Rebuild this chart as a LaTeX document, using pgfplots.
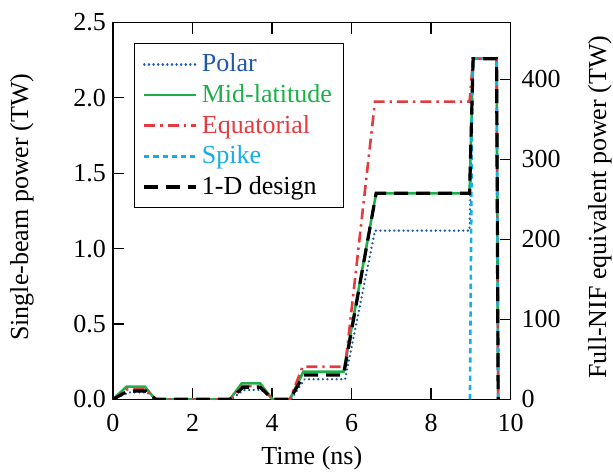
\documentclass[border=0pt]{standalone}
\usepackage{fontspec}
\setmainfont{Liberation Serif}
\usepackage{pgfplots}
\pgfplotsset{compat=1.18}
\definecolor{cpolar}{HTML}{1F5AA8}
\definecolor{cmid}{HTML}{1DB04A}
\definecolor{ceq}{HTML}{E53A40}
\definecolor{cspike}{HTML}{14AEE8}
\newcommand{\fs}{\fontsize{13}{15}\selectfont}
\begin{document}
\begin{tikzpicture}
\begin{axis}[
  scale only axis, width=198.75pt, height=188.4pt,
  xmin=0, xmax=10, ymin=0, ymax=2.5,
  xtick={0,2,4,6,8,10}, ytick={0,0.5,1,1.5,2,2.5},
  yticklabel style={/pgf/number format/.cd, fixed, fixed zerofill, precision=1},
  xticklabel style={yshift=-4pt},
  tick align=inside, xtick pos=both, ytick pos=left,
  major tick length=5.5pt,
  axis line style={line width=0.7pt},
  every tick/.style={black, line width=0.6pt},
  /pgf/number format/assume math mode=true,
  tick label style={font=\fs},
  label style={font=\fs},
  xlabel={Time (ns)}, ylabel={Single-beam power (TW)},
  xlabel style={anchor=center, at={(axis description cs:0.5,-0.1565)}},
  ylabel style={anchor=center, rotate=0, at={(axis description cs:-0.229,0.51)}},
  legend cell align=left,
  legend style={at={(axis description cs:0.053,0.945)}, anchor=north west,
    font=\fs, draw=black, line width=0.6pt, inner xsep=4pt, inner ysep=3pt,
    row sep=0.8pt},
  legend image code/.code={\draw[#1] plot coordinates {(0pt,0pt) (26pt,0pt)};},
]
\addplot[cpolar, line width=1.2pt, line cap=round, dash pattern=on 0.1pt off 2.2pt] coordinates {
(0,0) (0.40,0.046) (0.85,0.046) (1.10,0) (2.97,0) (3.30,0.062) (3.72,0.062) (4.05,0)
(4.48,0) (4.82,0.133) (5.84,0.133) (6.59,1.119) (8.97,1.119) (9.06,2.26) (9.65,2.26) (9.69,0)};
\addlegendentry{\textcolor{cpolar}{Polar}}
\addplot[cmid, line width=1.3pt] coordinates {
(0,0) (0.34,0.084) (0.80,0.084) (1.06,0) (2.94,0) (3.24,0.106) (3.70,0.106) (4.01,0)
(4.45,0) (4.79,0.183) (5.80,0.183) (6.62,1.367) (8.97,1.367) (9.06,2.26) (9.65,2.26) (9.69,0)};
\addlegendentry{\textcolor{cmid}{Mid-latitude}}
\addplot[ceq, line width=1.3pt, dash pattern=on 5.5pt off 2.5pt on 1.2pt off 2.5pt] coordinates {
(0,0) (0.36,0.066) (0.82,0.066) (1.08,0) (2.94,0) (3.26,0.088) (3.70,0.088) (4.02,0)
(4.45,0) (4.77,0.216) (5.84,0.216) (6.59,1.975) (8.97,1.975) (9.06,2.26) (9.65,2.26) (9.69,0)};
\addlegendentry{\textcolor{ceq}{Equatorial}}
\addplot[cspike, line width=1.3pt, dash pattern=on 2.6pt off 2pt] coordinates {
(8.98,0) (9.04,2.26) (9.65,2.26) (9.69,0)};
\addlegendentry{\textcolor{cspike}{Spike}}
\addplot[black, line width=1.6pt, dash pattern=on 7pt off 4pt] coordinates {
(0,0) (0.37,0.055) (0.82,0.055) (1.08,0) (2.95,0) (3.27,0.080) (3.70,0.080) (4.02,0)
(4.45,0) (4.80,0.161) (5.80,0.161) (6.62,1.367) (8.97,1.367) (9.06,2.26) (9.65,2.26) (9.69,0)};
\addlegendentry{1-D design}
\end{axis}
\begin{axis}[
  scale only axis, width=198.75pt, height=188.4pt,
  xmin=0, xmax=10, ymin=0, ymax=471,
  hide x axis, axis y line*=right,
  ytick={0,100,200,300,400},
  yticklabel style={xshift=2pt},
  tick align=inside, ytick pos=right,
  major tick length=5.5pt,
  axis line style={line width=0.7pt},
  every tick/.style={black, line width=0.6pt},
  /pgf/number format/assume math mode=true,
  tick label style={font=\fs},
  label style={font=\fs},
  ylabel={Full-NIF equivalent power (TW)},
  ylabel style={anchor=center, rotate=0, at={(axis description cs:1.225,0.51)}},
]
\end{axis}
\pgfresetboundingbox
\useasboundingbox ([xshift=-56.5pt,yshift=-36.85pt]current axis.south west) rectangle ([xshift=51.25pt,yshift=11.25pt]current axis.north east);
\end{tikzpicture}
\end{document}
